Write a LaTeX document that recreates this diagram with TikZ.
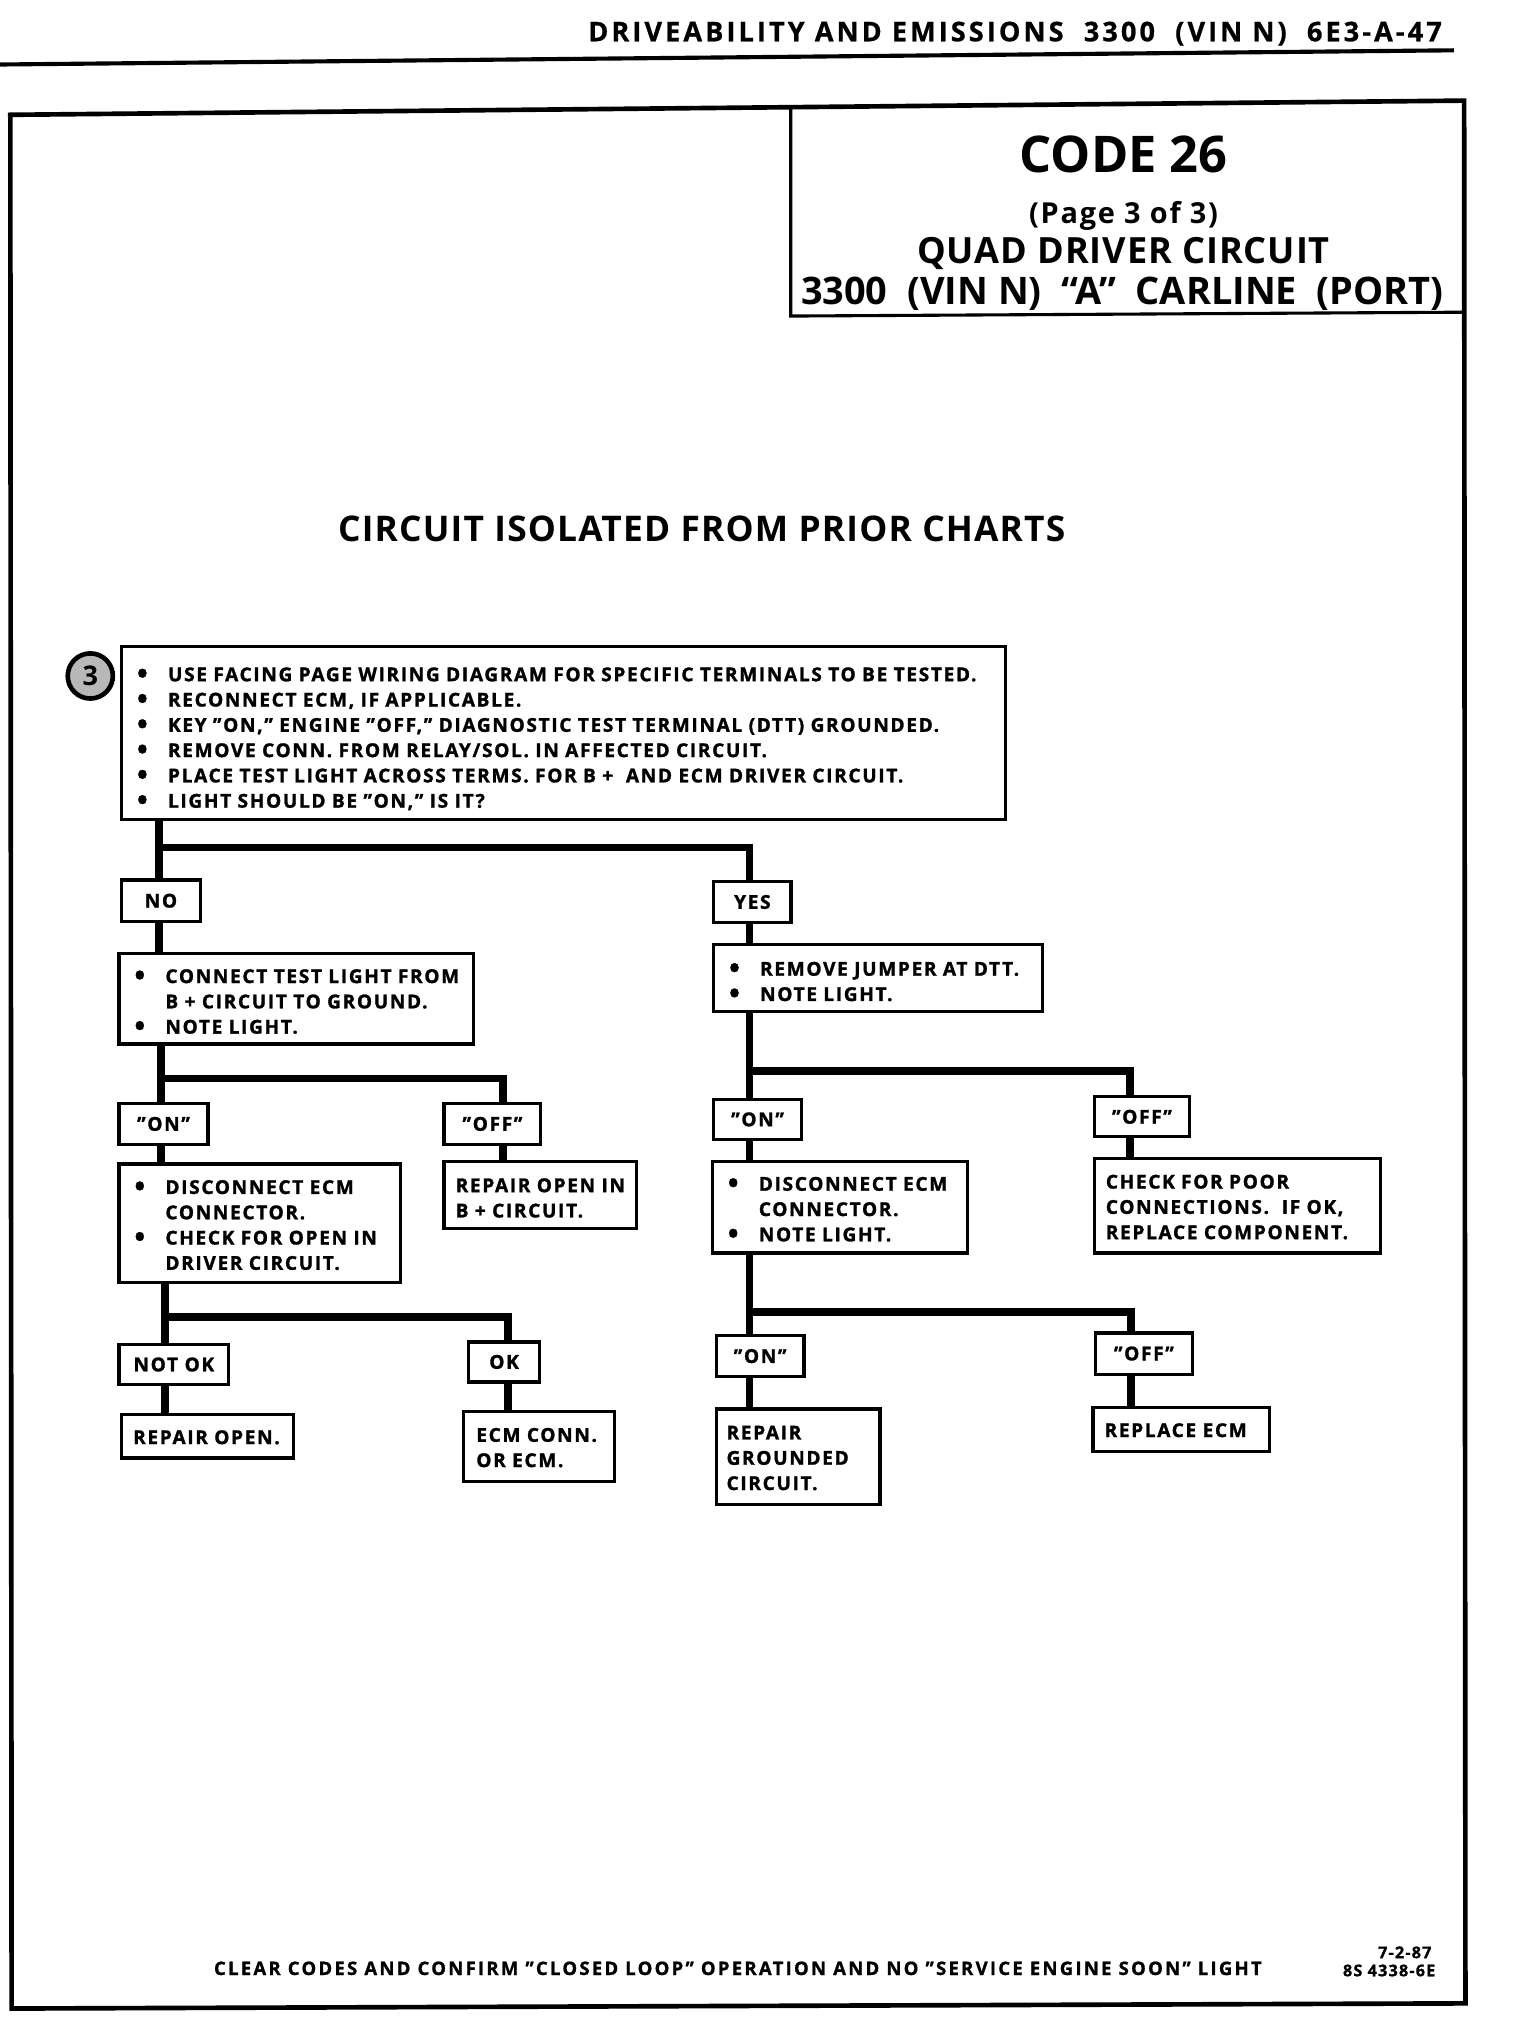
\documentclass[tikz,border=0pt]{standalone}
\usepackage{fontspec}
\setmainfont{Open Sans}
\usetikzlibrary{calc}
\newcommand{\ls}[1]{\addfontfeatures{LetterSpace=#1}}
\newcommand{\bodyf}{\bfseries\fontsize{7.4}{9.8}\selectfont\addfontfeatures{LetterSpace=8.7,FakeBold=1.4}}
\newcommand{\bul}{{\fontsize{11}{9.8}\selectfont\raisebox{-0.9pt}{•}}}
\newcommand{\itm}{\par\noindent\hangindent=12pt\hangafter=1\makebox[12pt][l]{\bul}}
\newcommand{\cont}{\par\noindent\hspace*{12pt}}
\newcommand{\nl}{\par\noindent}
\newcommand{\fin}[1]{\par\vskip#1\nointerlineskip\hbox{}}
\tikzset{
  bx/.style={draw, line width=1.25pt, anchor=north west, inner xsep=6pt, inner ysep=0pt, align=left, font=\bodyf},
  lb/.style={draw, line width=1.25pt, anchor=north west, inner sep=0pt, align=center, font=\bodyf},
  conn/.style={line width=3pt, line join=miter},
  ttl/.style={inner sep=0pt, anchor=base, font=\bfseries},
}
\begin{document}
\begin{tikzpicture}[x=0.5pt,y=-0.5pt]
\useasboundingbox (0,0) rectangle (1178.3,1569);
% header
\node[ttl, anchor=base east, font=\bfseries\fontsize{10.5}{12}\selectfont\addfontfeatures{LetterSpace=11.4,FakeBold=0.8}] (hdr) at (1118,32) {DRIVEABILITY AND EMISSIONS\ \ 3300\ \ (VIN N)\ \ 6E3-A-47};
\draw[line width=1.6pt] (0,50) -- (1127,39);
% frame
\draw[line width=1.8pt] (8,89) -- (1135,78) -- (1136,1553) -- (9,1557) -- cycle;
\draw[line width=1.2pt] (613,83) -- (613,245) -- (1135,242);
% titles
\node[ttl, font=\bfseries\fontsize{19.6}{22}\selectfont] (code) at (871,134) {CODE 26};
\node[ttl, font=\bfseries\fontsize{11.2}{13}\selectfont\ls{6}] (page) at (871,173) {(Page 3 of 3)};
\node[ttl, font=\bfseries\fontsize{14}{16}\selectfont\ls{2.5}] (quad) at (871,204) {QUAD DRIVER CIRCUIT};
\node[ttl, font=\bfseries\fontsize{14.7}{16}\selectfont] (car) at (870,236) {3300\ \ (VIN N)\ \ ``A''\ \ CARLINE\ \ (PORT)};
\node[ttl, font=\bfseries\fontsize{13.7}{16}\selectfont\ls{3.3}] (iso) at (544,420) {CIRCUIT ISOLATED FROM PRIOR CHARTS};
% step circle
\node[circle, draw, line width=1.8pt, fill=black!28, minimum size=17.5pt, inner sep=0pt, font=\bfseries\fontsize{10.5}{11}\selectfont] (c3) at (70,524) {3};
% boxes
\node[bx, text width=330.5pt, minimum height=67pt] (b1) at (93,500) {%
\itm\mbox{USE FACING PAGE WIRING DIAGRAM FOR SPECIFIC TERMINALS TO BE TESTED.}
\itm\mbox{RECONNECT ECM, IF APPLICABLE.}
\itm\mbox{KEY "ON," ENGINE "OFF," DIAGNOSTIC TEST TERMINAL (DTT) GROUNDED.}
\itm\mbox{REMOVE CONN. FROM RELAY/SOL. IN AFFECTED CIRCUIT.}
\itm\mbox{PLACE TEST LIGHT ACROSS TERMS. FOR B + \ AND ECM DRIVER CIRCUIT.}
\itm\mbox{LIGHT SHOULD BE "ON," IS IT?}};
\node[lb, minimum width=30.5pt, minimum height=16pt] (no) at (93,681) {NO};
\node[lb, minimum width=30pt, minimum height=16pt] (yes) at (552,682) {YES};
\node[bx, text width=125.5pt, minimum height=35pt] (b2) at (91,738) {%
\itm\mbox{CONNECT TEST LIGHT FROM}
\cont\mbox{B + CIRCUIT TO GROUND.}
\itm\mbox{NOTE LIGHT.}\fin{1.5pt}};
\node[bx, text width=115.5pt, minimum height=26pt] (b3) at (552,731) {%
\itm\mbox{REMOVE JUMPER AT DTT.}
\itm\mbox{NOTE LIGHT.}\fin{1pt}};
\node[lb, minimum width=34.5pt, minimum height=16pt] (onL) at (91,854) {"ON"};
\node[lb, minimum width=37.5pt, minimum height=16pt] (offL) at (343,854) {"OFF"};
\node[bx, text width=97pt, minimum height=46pt] (b4) at (91,901) {%
\itm\mbox{DISCONNECT ECM}
\cont\mbox{CONNECTOR.}
\itm\mbox{CHECK FOR OPEN IN}
\cont\mbox{DRIVER CIRCUIT.}\fin{3pt}};
\node[bx, inner xsep=4.5pt, text width=65.5pt, minimum height=26pt] (b5) at (343,899) {%
\nl\mbox{REPAIR OPEN IN}
\nl\mbox{B + CIRCUIT.}\fin{2pt}};
\node[lb, minimum width=34pt, minimum height=15.5pt] (onR) at (552,851) {"ON"};
\node[lb, minimum width=37pt, minimum height=15.5pt] (offR) at (847,849) {"OFF"};
\node[bx, text width=87pt, minimum height=35.5pt] (b6) at (551,899) {%
\itm\mbox{DISCONNECT ECM}
\cont\mbox{CONNECTOR.}
\itm\mbox{NOTE LIGHT.}\fin{2pt}};
\node[bx, inner xsep=4.5pt, text width=102pt, minimum height=36.5pt] (b7) at (847,897) {%
\nl\mbox{CHECK FOR POOR}
\nl\mbox{CONNECTIONS.\ \ IF OK,}
\nl\mbox{REPLACE COMPONENT.}\fin{3.5pt}};
\node[lb, minimum width=42.5pt, minimum height=15.5pt] (notok) at (91,1041) {NOT OK};
\node[lb, minimum width=27.5pt, minimum height=15.5pt] (ok) at (362,1039) {OK};
\node[lb, minimum width=34pt, minimum height=16pt] (onR2) at (554,1034) {"ON"};
\node[lb, minimum width=37.5pt, minimum height=16pt] (offR2) at (848,1032) {"OFF"};
\node[bx, inner xsep=4.5pt, text width=57.5pt, minimum height=17pt] (ro) at (93,1095) {\nl\mbox{REPAIR OPEN.}\fin{3.5pt}};
\node[bx, inner xsep=5pt, text width=48.5pt, minimum height=27pt] (ec) at (358,1093) {\nl\mbox{ECM CONN.}\nl\mbox{OR ECM.}\fin{3.5pt}};
\node[bx, inner xsep=4pt, text width=55.5pt, minimum height=37pt] (rg) at (554,1091) {\nl\mbox{REPAIR}\nl\mbox{GROUNDED}\nl\mbox{CIRCUIT.}\fin{3.5pt}};
\node[bx, inner xsep=4.5pt, text width=59.5pt, minimum height=17pt] (re) at (846,1090) {\nl\mbox{REPLACE ECM}\fin{4pt}};
% junctions
\coordinate (j1) at (123,657);
\coordinate (j2) at (125,836);
\coordinate (j3) at (128,1021);
\coordinate (j4) at (581,830);
\coordinate (j5) at (581,1017);
% connectors
\draw[conn] ($(b1.south west)+(30,0)$) -- ($(no.north west)+(30,0)$);
\draw[conn] (j1) -| ($(yes.north west)+(29,0)$);
\draw[conn] ($(no.south west)+(30,0)$) -- ($(b2.north west)+(32,0)$);
\draw[conn] ($(yes.south west)+(29,0)$) -- ($(b3.north west)+(29,0)$);
\draw[conn] ($(b2.south west)+(34,0)$) -- ($(onL.north west)+(34,0)$);
\draw[conn] (j2) -| ($(offL.north west)+(47,0)$);
\draw[conn] ($(onL.south west)+(34,0)$) -- ($(b4.north west)+(34,0)$);
\draw[conn] ($(offL.south west)+(47,0)$) -- ($(b5.north west)+(47,0)$);
\draw[conn] ($(b4.south west)+(37,0)$) -- ($(notok.north west)+(37,0)$);
\draw[conn] (j3) -| ($(ok.north west)+(32,0)$);
\draw[conn] ($(notok.south west)+(37,0)$) -- ($(ro.north west)+(35,0)$);
\draw[conn] ($(ok.south west)+(32,0)$) -- ($(ec.north west)+(36,0)$);
\draw[conn] ($(b3.south west)+(29,0)$) -- ($(onR.north west)+(29,0)$);
\draw[conn] (j4) -| ($(offR.north west)+(29,0)$);
\draw[conn] ($(onR.south west)+(29,0)$) -- ($(b6.north west)+(30,0)$);
\draw[conn] ($(offR.south west)+(29,0)$) -- ($(b7.north west)+(29,0)$);
\draw[conn] ($(b6.south west)+(30,0)$) -- ($(onR2.north west)+(27,0)$);
\draw[conn] (j5) -| ($(offR2.north west)+(29,0)$);
\draw[conn] ($(onR2.south west)+(27,0)$) -- ($(rg.north west)+(27,0)$);
\draw[conn] ($(offR2.south west)+(29,0)$) -- ($(re.north west)+(31,0)$);
% footer
\node[ttl, font=\bfseries\fontsize{7.2}{8}\selectfont\addfontfeatures{LetterSpace=12,FakeBold=1}] (foot) at (572,1531) {CLEAR CODES AND CONFIRM "CLOSED LOOP" OPERATION AND NO "SERVICE ENGINE SOON" LIGHT};
\node[ttl, anchor=base east, font=\bfseries\fontsize{6.3}{7}\selectfont\addfontfeatures{LetterSpace=7,FakeBold=1}] (date) at (1110,1518) {7-2-87};
\node[ttl, anchor=base east, font=\bfseries\fontsize{6.3}{7}\selectfont\addfontfeatures{LetterSpace=7,FakeBold=1}] (num) at (1113,1532) {8S 4338-6E};
\end{tikzpicture}
\end{document}
